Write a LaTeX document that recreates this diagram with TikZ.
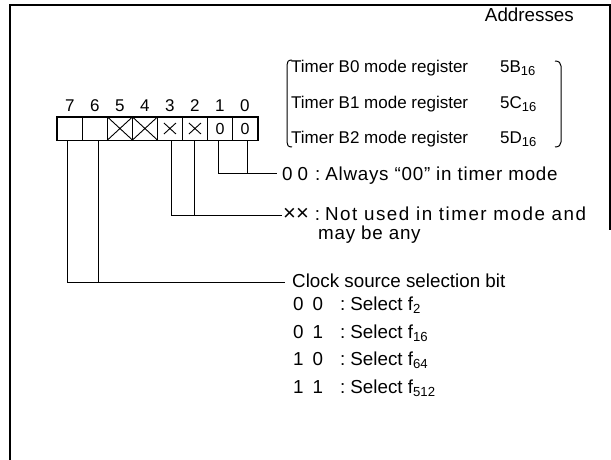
\documentclass[tikz,border=0pt]{standalone}
\usepackage{fontspec}
\setmainfont{Liberation Sans}
\newcommand\bitrow[2]{\makebox[47pt][l]{#1}:\hspace{5pt}#2}
\begin{document}
\begin{tikzpicture}[x=1pt,y=-1pt,
  framel/.style={line width=2.4pt},
  cellbox/.style={draw, line width=0.9pt, minimum width=25pt, minimum height=23pt, inner sep=0pt, anchor=west, font=\fontsize{16}{16}\selectfont},
  regbox/.style={line width=1.8pt},
  conn/.style={line width=0.9pt},
  bitnum/.style={inner sep=0pt, anchor=base, font=\fontsize{17}{17}\selectfont},
  smalltxt/.style={inner sep=0pt, anchor=base west, font=\fontsize{17}{18}\selectfont},
  bigtxt/.style={inner sep=0pt, anchor=base west, font=\fontsize{18.8}{20}\selectfont},
  brk/.style={line width=1pt}
]
\useasboundingbox (0,0) rectangle (611,460);
\draw[framel] (10,460) -- (10,5) -- (610,5) -- (610,230);

% register cells
\node[cellbox] (c7) at (57,128.5) {};
\node[cellbox] (c6) at (82,128.5) {};
\node[cellbox] (c5) at (107,128.5) {};
\node[cellbox] (c4) at (132,128.5) {};
\node[cellbox] (c3) at (157,128.5) {};
\node[cellbox] (c2) at (182,128.5) {};
\node[cellbox] (c1) at (207,128.5) {0};
\node[cellbox] (c0) at (232,128.5) {0};
\draw[regbox] (c7.north west) rectangle (c0.south east);
\draw[conn] (c5.north west) -- (c5.south east) (c5.south west) -- (c5.north east);
\draw[conn] (c4.north west) -- (c4.south east) (c4.south west) -- (c4.north east);
\draw[conn] ([shift={(-6,-5.5)}]c3.center) -- ([shift={(6,5.5)}]c3.center)
            ([shift={(-6,5.5)}]c3.center) -- ([shift={(6,-5.5)}]c3.center);
\draw[conn] ([shift={(-6,-5.5)}]c2.center) -- ([shift={(6,5.5)}]c2.center)
            ([shift={(-6,5.5)}]c2.center) -- ([shift={(6,-5.5)}]c2.center);

% bit numbers
\foreach \b in {7,6,5,4,3,2,1,0}
  \node[bitnum] (n\b) at ([yshift=5.5pt]c\b.north) {\b};

% connector tops and ends
\coordinate (k7) at ([xshift=-2.5pt]c7.south);
\coordinate (k6) at ([xshift=3.5pt]c6.south);
\coordinate (k3) at ([xshift=1.5pt]c3.south);
\coordinate (k2) at ([xshift=-0.5pt]c2.south);
\coordinate (k1) at ([xshift=-1.5pt]c1.south);
\coordinate (k0) at ([xshift=2.5pt]c0.south);
\coordinate (e0) at (277,173);
\coordinate (e1) at (282,215);
\coordinate (e2) at (285,282);

\draw[conn] (k1) |- (e0);
\draw[conn] (k0) -- (k0 |- e0);
\draw[conn] (k3) |- (e1);
\draw[conn] (k2) -- (k2 |- e1);
\draw[conn] (k7) |- (e2);
\draw[conn] (k6) -- (k6 |- e2);

% addresses
\node[bigtxt, anchor=base east] (addr) at (574,22) {Addresses};
\node[smalltxt] (r0) at (291,72.7) {Timer B0 mode register};
\node[smalltxt] (r1) at (291,108.3) {Timer B1 mode register};
\node[smalltxt] (r2) at (291,143.3) {Timer B2 mode register};
\node[smalltxt] (v0) at (500,72.7) {5B\textsubscript{\fontsize{13}{13}\selectfont 16}};
\node[smalltxt] (v1) at (500,108.3) {5C\textsubscript{\fontsize{13}{13}\selectfont 16}};
\node[smalltxt] (v2) at (500,143.3) {5D\textsubscript{\fontsize{13}{13}\selectfont 16}};
\draw[brk] (292,60) .. controls (288,60) and (287,62) .. (287,65) -- (287,142)
           .. controls (287,145) and (288,147) .. (292,147);
\draw[brk] (555,61) .. controls (559,61) and (561,63) .. (561,66) -- (561,142)
           .. controls (561,145) and (559,147) .. (555,147);

% descriptions
\node[bigtxt] (a0) at (282,180) {0\hspace{5pt}0\hspace{7pt}:\hspace{5pt}\addfontfeature{LetterSpace=4}Always “00” in timer mode};
\node[bigtxt] (a1) at (283,220) {{\fontsize{22}{20}\selectfont ××}\hspace{6pt}:\hspace{5pt}\addfontfeature{LetterSpace=8}Not used in timer mode and};
\node[bigtxt] (a1b) at (318,239) {\addfontfeature{LetterSpace=4}may be any};
\node[bigtxt] (a2) at (292,287) {Clock source selection bit};
\node[bigtxt] (s0) at (293,310) {\bitrow{0\hspace{9pt}0}{Select f\textsubscript{2}}};
\node[bigtxt] (s1) at (293,338) {\bitrow{0\hspace{9pt}1}{Select f\textsubscript{16}}};
\node[bigtxt] (s2) at (293,365) {\bitrow{1\hspace{9pt}0}{Select f\textsubscript{64}}};
\node[bigtxt] (s3) at (293,393) {\bitrow{1\hspace{9pt}1}{Select f\textsubscript{512}}};
\end{tikzpicture}
\end{document}
